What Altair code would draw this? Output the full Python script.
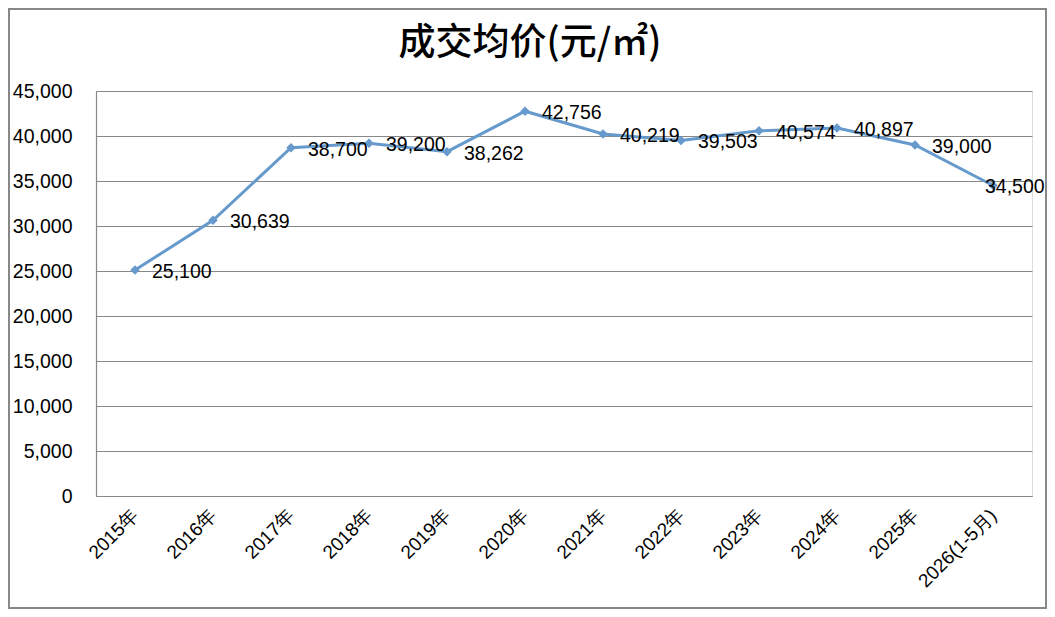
import altair as alt
import pandas as pd

categories = ["2015年", "2016年", "2017年", "2018年", "2019年", "2020年",
              "2021年", "2022年", "2023年", "2024年", "2025年", "2026(1-5月)"]
values = [25100, 30639, 38700, 39200, 38262, 42756,
          40219, 39503, 40574, 40897, 39000, 34500]
y_ticks = [0, 5000, 10000, 15000, 20000, 25000, 30000, 35000, 40000, 45000]

df = pd.DataFrame({"cat": categories, "val": values})

LINE = "#6699cc"
FONT = "Liberation Sans"

x_enc = alt.X("cat:N", sort=categories, title=None,
              scale=alt.Scale(paddingInner=0, paddingOuter=0),
              axis=alt.Axis(labelAngle=-45, labelFontSize=19, labelFont=FONT,
                            labelColor="#000000", ticks=False, labelPadding=16,
                            domainColor="#888888", domainWidth=1.2,
                            labelAlign="right", labelBaseline="middle"))
y_enc = alt.Y("val:Q", title=None,
              scale=alt.Scale(domain=[0, 45000], nice=False),
              axis=alt.Axis(values=y_ticks, format=",.0f", labelFontSize=19.5,
                            labelFont=FONT, labelColor="#000000", ticks=False,
                            labelPadding=24, grid=True, gridColor="#888888",
                            gridWidth=1.2, domainColor="#888888", domainWidth=1.2))

base = alt.Chart(df).encode(x=x_enc, y=y_enc)

line = base.mark_line(color=LINE, strokeWidth=3)
pts = base.mark_point(shape="diamond", filled=True, size=90, color=LINE, opacity=1)
labels = base.transform_filter(alt.datum.cat != categories[-1]).mark_text(
    align="left", baseline="middle", dx=17, dy=2, fontSize=19.5, font=FONT,
    color="#000000").encode(text=alt.Text("val:Q", format=","))
last_label = base.transform_filter(alt.datum.cat == categories[-1]).mark_text(
    align="left", baseline="middle", dx=-8, dy=1, fontSize=19.5, font=FONT,
    color="#000000").encode(text=alt.Text("val:Q", format=","))

frame = alt.Chart(df).mark_rect(fill=None, stroke="#888888", strokeWidth=1.5).encode(
    x=alt.value(-87), x2=alt.value(950), y=alt.value(-82), y2=alt.value(517))

chart = alt.layer(frame, line, pts, labels, last_label).properties(
    width=936, height=405,
    title=alt.TitleParams("成交均价(元/㎡)", fontSize=37, font="Noto Sans CJK SC",
                          fontWeight=500, color="#000000", anchor="middle",
                          frame="group", dx=-34, offset=-84, baseline="alphabetic"),
    autosize=alt.AutoSizeParams(type="none"),
    padding={"left": 88, "top": 83, "right": 15, "bottom": 113},
).configure_view(stroke=None).configure(background="#ffffff")

chart.save("out.html", embed_options={"renderer": "svg", "actions": False})
